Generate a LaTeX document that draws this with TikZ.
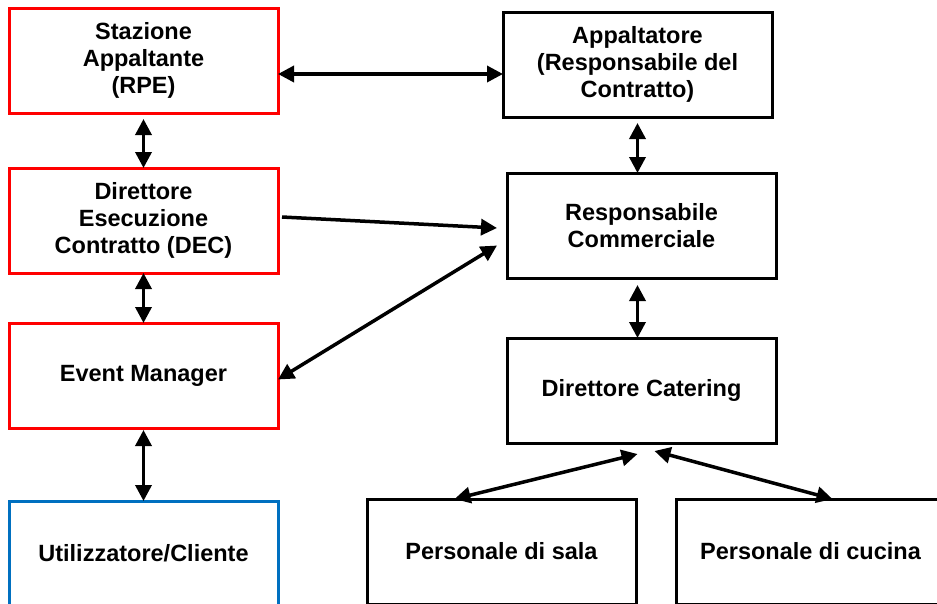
\documentclass[tikz,border=0pt]{standalone}
\usepackage{fontspec}
\setmainfont{Liberation Sans}
\usepackage{tikz}
\usepackage{xcolor}
\usetikzlibrary{arrows.meta, positioning}
\definecolor{clientblue}{RGB}{0,112,192}
\tikzstyle{redbox}   = [rectangle, minimum width=269pt, minimum height=105pt, outer sep=0pt,
                        text centered, align=center, draw=red, line width=3pt]
\tikzstyle{bluebox}  = [rectangle, minimum width=269pt, minimum height=105pt, outer sep=0pt,
                        text centered, align=center, draw=clientblue, line width=3pt]
\tikzstyle{blackbox} = [rectangle, minimum width=269pt, minimum height=105pt, outer sep=0pt,
                        text centered, align=center, draw=black, line width=3pt]
\tikzstyle{arrow}    = [-{Triangle[length=16pt, width=16pt]}, line width=3.5pt]
\tikzstyle{dblarrow} = [{Triangle[length=16pt, width=16pt]}-{Triangle[length=16pt, width=16pt]}, line width=3.5pt]

\begin{document}
\begin{tikzpicture}[x=1pt, y=1pt, every node/.style={font=\fontsize{23.5}{27}\selectfont\bfseries}]
    \useasboundingbox (0,0) rectangle (937,-603);

    \node (rpe) [redbox] at (143.5,-60.5) {Stazione\\Appaltante\\(RPE)};
    \node (dec) [redbox, below=55pt of rpe] {Direttore\\Esecuzione\\Contratto (DEC)};
    \node (em) [redbox, below=50pt of dec] {Event Manager};
    \node (cliente) [bluebox, below=73pt of em] {Utilizzatore/Cliente};

    \node (appaltatore) [blackbox, right=225pt of rpe, yshift=-4pt] {Appaltatore\\(Responsabile del\\Contratto)};
    \node (rc) [blackbox, below=56pt of appaltatore, xshift=4pt] {Responsabile\\Commerciale};
    \node (catering) [blackbox, below=60pt of rc] {Direttore Catering};
    \node (sala) [blackbox, below=56pt of catering, xshift=-140pt] {Personale di sala};
    \node (cucina) [blackbox, right=40pt of sala] {Personale di cucina};

    \draw[dblarrow] ([yshift=-13.5pt]rpe.east) -- ([yshift=-13.5pt]rpe.east -| appaltatore.west);
    \draw[dblarrow] ([yshift=-6pt]rpe.south) -- (dec.north);
    \draw[dblarrow] (dec) -- (em);
    \draw[dblarrow] ([yshift=-2pt]em.south) -- (cliente.north);
    \draw[dblarrow] ([yshift=-6pt]appaltatore.south) -- (appaltatore.south |- rc.north);
    \draw[dblarrow] ([xshift=-4pt, yshift=-7pt]rc.south) -- ([xshift=-4pt]catering.north);
    \draw[arrow] ([xshift=4pt, yshift=3.5pt]dec.east) -- ([xshift=-10pt, yshift=-2.5pt]rc.west);
    \draw[dblarrow] ([yshift=-4pt]em.east) -- ([xshift=-10pt, yshift=-20pt]rc.west);
    \draw[dblarrow] ([xshift=-4pt, yshift=-11pt]catering.south) -- ([xshift=-47pt]sala.north);
    \draw[dblarrow] ([xshift=13pt, yshift=-8pt]catering.south) -- ([xshift=22pt]cucina.north);
\end{tikzpicture}
\end{document}
